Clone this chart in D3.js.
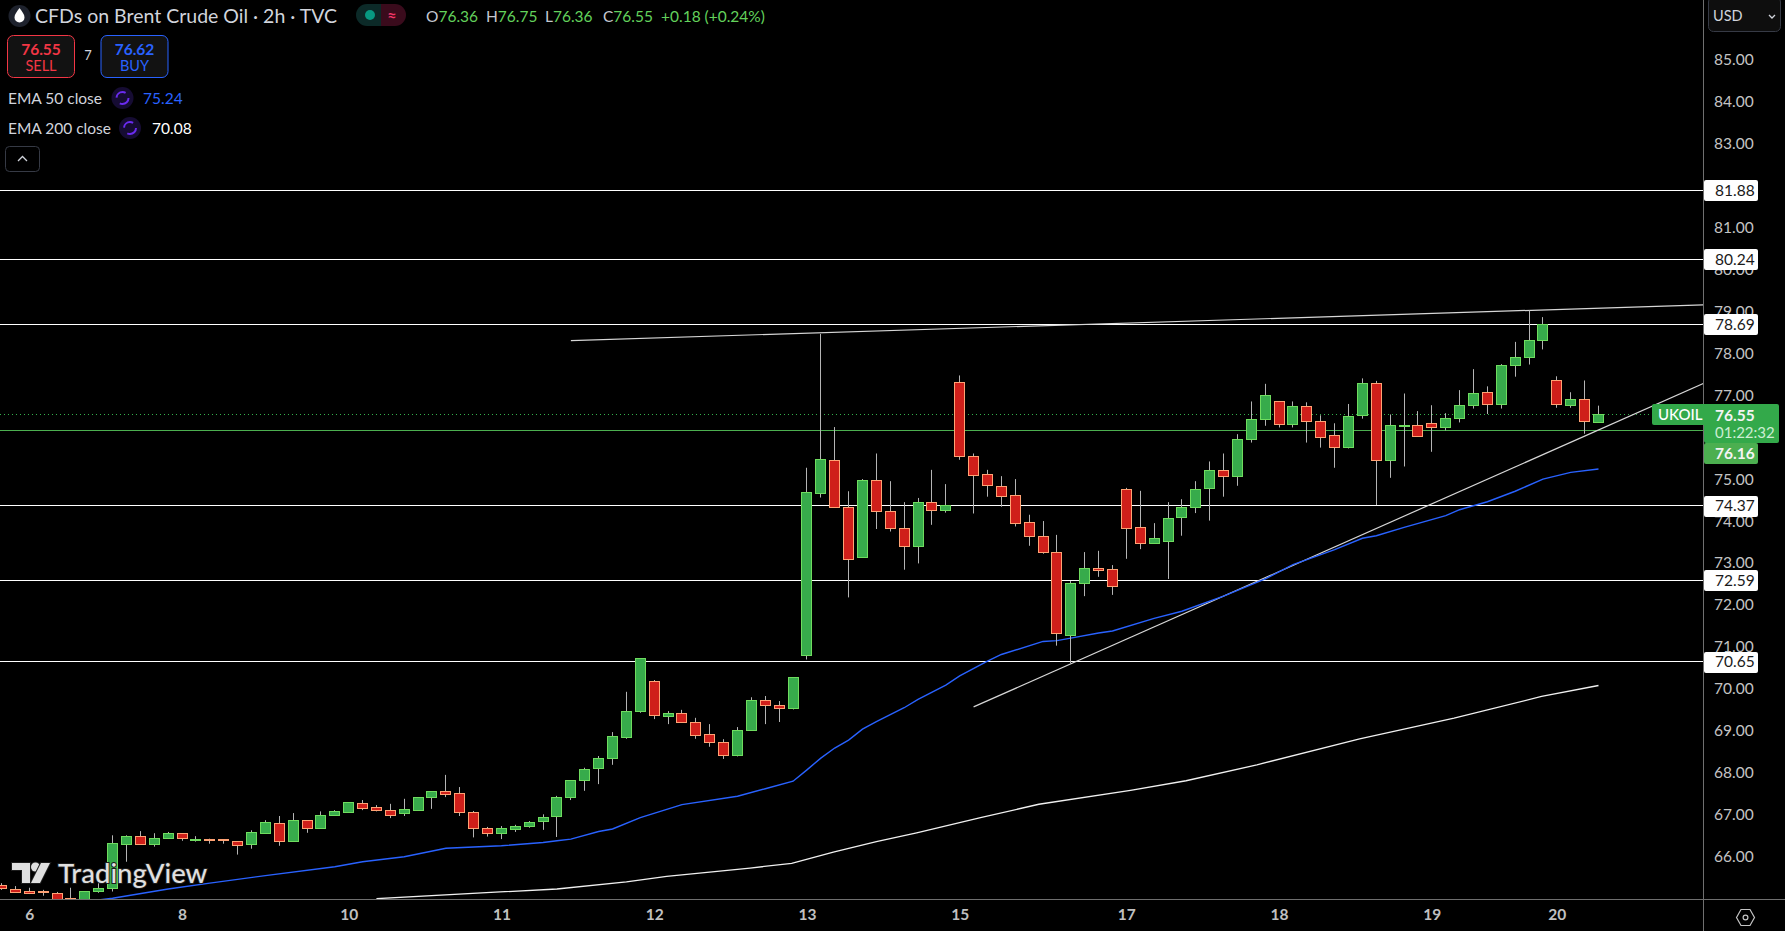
<!DOCTYPE html>
<html>
<head>
<meta charset="utf-8">
<title>CFDs on Brent Crude Oil</title>
<script src="https://cdn.jsdelivr.net/npm/d3@7"></script>
<style>
html, body { margin: 0; padding: 0; background: #000; overflow: hidden; }
svg { display: block; }
text { font-family: Lato, sans-serif; }
</style>
</head>
<body>
<script>
// candles, one entry per 2h bar
var opens = [65.32,65.23,65.18,65.16,65.13,65.01,64.85,65.17,65.24,66.31,66.49,66.29,66.44,66.56,66.41,66.42,66.40,66.36,66.29,66.55,
  66.80,66.38,66.87,66.69,66.98,67.05,67.27,67.18,67.11,67.03,67.12,67.41,67.56,67.51,67.06,66.68,66.57,66.67,66.72,66.84,
  66.96,67.41,67.81,68.10,68.34,68.84,69.46,70.18,69.36,69.42,69.20,68.92,68.73,68.41,69.01,69.73,69.61,69.53,70.80,74.65,
  75.45,74.33,73.13,74.97,74.23,73.83,73.39,74.45,74.25,77.31,75.54,75.11,74.83,74.61,73.97,73.64,73.26,71.29,72.51,72.87,
  72.85,74.76,73.85,73.46,73.53,74.08,74.32,74.77,75.21,75.06,75.94,76.42,76.85,76.30,76.73,76.38,76.04,75.75,76.52,77.28,
  75.44,76.27,76.28,76.33,76.23,76.45,76.76,77.07,76.78,77.71,77.90,78.31,77.35,76.76,76.90,76.36];
var closes = [65.24,65.17,65.14,65.14,64.90,64.90,65.18,65.25,66.32,66.49,66.29,66.44,66.56,66.44,66.42,66.39,66.38,66.27,66.58,66.82,
  66.37,66.87,66.69,66.99,67.08,67.30,67.15,67.12,67.00,67.13,67.42,67.56,67.50,67.05,66.69,66.55,66.68,66.73,66.82,66.94,
  67.42,67.82,68.08,68.35,68.87,69.47,70.73,69.36,69.42,69.20,68.89,68.72,68.43,69.01,69.73,69.60,69.55,70.28,74.69,75.47,
  74.32,73.10,74.97,74.22,73.82,73.39,74.45,74.25,74.38,75.54,75.08,74.84,74.58,73.94,73.63,73.25,71.32,72.52,72.87,72.82,
  72.44,73.84,73.46,73.59,74.07,74.33,74.76,75.21,75.06,75.95,76.42,77.00,76.30,76.73,76.37,76.01,75.75,76.50,77.28,75.44,
  76.28,76.28,76.01,76.23,76.45,76.76,77.04,76.78,77.71,77.90,78.31,78.69,76.78,76.90,76.38,76.55];
var highs = [65.37,65.30,65.26,65.21,65.16,65.26,65.18,65.37,66.51,66.51,66.61,66.56,66.59,66.56,66.49,66.43,66.42,66.36,66.63,66.87,
  66.97,67.04,66.87,67.08,67.11,67.30,67.35,67.23,67.26,67.38,67.42,67.56,67.95,67.66,67.09,66.71,66.73,66.76,66.85,67.01,
  67.45,67.82,68.12,68.40,68.97,69.93,70.73,70.21,69.47,69.50,69.31,69.16,68.80,69.09,69.80,69.83,69.71,70.28,75.27,78.46,
  76.24,74.71,75.00,75.61,74.95,74.45,74.55,75.22,74.88,77.47,75.61,75.22,75.07,75.00,74.15,74.00,73.67,72.57,73.26,73.29,
  72.95,74.79,74.72,73.95,74.45,74.52,74.95,75.42,75.61,76.07,76.85,77.27,76.85,76.85,76.83,76.52,76.33,76.79,77.40,77.34,
  76.54,77.04,76.62,76.76,76.57,77.12,77.62,77.21,77.74,78.27,79.02,78.86,77.45,77.07,77.35,76.75];
var lows = [65.21,65.14,65.11,65.07,64.85,64.85,64.80,65.14,65.17,65.88,66.29,66.24,66.44,66.38,66.36,66.31,66.31,66.05,66.19,66.55,
  66.26,66.36,66.57,66.69,66.98,67.05,67.11,67.08,66.92,66.97,67.12,67.14,67.42,66.97,66.46,66.48,66.42,66.59,66.69,66.64,
  66.47,67.35,67.57,67.73,68.19,68.81,69.43,69.28,69.16,69.20,68.81,68.62,68.33,68.39,69.01,69.16,69.21,69.51,70.70,74.56,
  74.32,72.18,73.13,73.81,73.75,72.84,72.99,73.91,74.20,75.46,74.18,74.58,74.34,73.87,73.41,73.22,71.03,70.61,72.21,72.67,
  72.24,73.10,73.33,73.46,72.62,73.65,74.19,74.01,74.58,74.84,75.87,76.27,76.23,76.23,75.87,75.75,75.27,75.73,76.44,74.38,
  75.03,75.30,76.01,75.65,76.16,76.35,76.68,76.55,76.68,77.44,77.73,78.09,76.70,76.70,76.08,76.36];

// EMA readings at the bars where they could be read
var ema50Bars = [7,8,12,15,19,24,26,29,32,36,39,40,41,43,44,46,49,53,55,57,58,59,60,61,62,63,65,66,68,69,71,72,75,76,77,79,80,83,85,88,91,93,95,96,98,99,101,104,105,107,109,111,113,115];
var ema50Values = [64.97,65.01,65.23,65.37,65.55,65.76,65.88,66.00,66.20,66.26,66.34,66.38,66.42,66.60,66.66,66.93,67.24,67.44,67.62,67.80,68.07,68.35,68.59,68.78,69.04,69.22,69.55,69.75,70.09,70.31,70.66,70.82,71.13,71.15,71.21,71.33,71.38,71.68,71.85,72.21,72.62,72.96,73.20,73.32,73.59,73.65,73.85,74.13,74.27,74.46,74.71,75.00,75.16,75.24];
var ema200Bars = [27,35.9,40,45,47.9,53.9,56.9,59.9,63,65.9,70.5,74.7,81.3,85.3,90.4,97.8,104.6,110.9,115];
var ema200Values = [65.00,65.16,65.23,65.40,65.53,65.73,65.84,66.11,66.36,66.57,66.93,67.25,67.58,67.81,68.19,68.81,69.30,69.82,70.08];

// drawn levels and the two trend lines
var levels = [81.88,80.24,78.69,74.37,72.59,70.65];
var upperTrendBars = [41,130];
var upperTrendValues = [78.30,79.23];
var lowerTrendBars = [70,130];
var lowerTrendValues = [69.57,78.37];

var lastPrice = 76.55;
var prevClose = 76.16;

var priceTicks = [85,84,83,82,81,80,79,78,77,76,75,74,73,72,71,70,69,68,67,66];
var dayBars = [2,13,25,36,47,58,69,81,92,103,112];
var dayLabels = ["6","8","10","11","12","13","15","17","18","19","20"];

var w = 1785, h = 931;
var plotW = 1703, plotH = 899;

var x = d3.scaleLinear().domain([0,115]).range([1.5,1598.5]);
var y = d3.scaleLinear().domain([85,66]).range([59.5,856.7]);

var svg = d3.select("body").append("svg").attr("width",w).attr("height",h);
svg.append("rect").attr("width",w).attr("height",h).attr("fill","#000");

svg.append("defs").append("clipPath").attr("id","plot")
  .append("rect").attr("width",plotW).attr("height",plotH);

var plot = svg.append("g").attr("clip-path","url(#plot)");

function snap(v) { return Math.floor(v) + 0.5; }

// levels
plot.selectAll(".level").data(levels).enter().append("line")
  .attr("x1",0).attr("x2",plotW)
  .attr("y1",function(d){return snap(y(d));})
  .attr("y2",function(d){return snap(y(d));})
  .attr("stroke","#fff").attr("stroke-width",1);

plot.append("line").attr("x1",0).attr("x2",plotW)
  .attr("y1",snap(y(prevClose))).attr("y2",snap(y(prevClose)))
  .attr("stroke","#4caf50").attr("stroke-width",1);

plot.append("line").attr("x1",0).attr("x2",1652)
  .attr("y1",snap(y(lastPrice))).attr("y2",snap(y(lastPrice)))
  .attr("stroke","#34b04c").attr("stroke-width",1).attr("stroke-dasharray","1 3");

// trend lines
var lineGen = d3.line().x(function(d){return x(d[0]);}).y(function(d){return y(d[1]);});

plot.append("path").attr("d",lineGen(d3.zip(upperTrendBars,upperTrendValues)))
  .attr("fill","none").attr("stroke","#d6d6d6").attr("stroke-width",1.2);
plot.append("path").attr("d",lineGen(d3.zip(lowerTrendBars,lowerTrendValues)))
  .attr("fill","none").attr("stroke","#d6d6d6").attr("stroke-width",1.2);

// moving averages
plot.append("path").attr("d",lineGen(d3.zip(ema200Bars,ema200Values)))
  .attr("fill","none").attr("stroke","#f0f0f0").attr("stroke-width",1.3);
plot.append("path").attr("d",lineGen(d3.zip(ema50Bars,ema50Values)))
  .attr("fill","none").attr("stroke","#2962ff").attr("stroke-width",1.4);

// candles
var bars = d3.range(opens.length);

plot.selectAll(".wick").data(bars).enter().append("line")
  .attr("x1",function(i){return snap(x(i));})
  .attr("x2",function(i){return snap(x(i));})
  .attr("y1",function(i){return y(highs[i]);})
  .attr("y2",function(i){return y(lows[i]);})
  .attr("stroke","#b4b4b4").attr("stroke-width",1);

plot.selectAll(".body").data(bars).enter().append("rect")
  .attr("x",function(i){return snap(x(i)) - 5;})
  .attr("width",10)
  .attr("y",function(i){return snap(y(Math.max(opens[i],closes[i])));})
  .attr("height",function(i){return Math.max(1,Math.round(Math.abs(y(opens[i]) - y(closes[i]))));})
  .attr("fill",function(i){return closes[i] >= opens[i] ? "#37ab4b" : "#cf1f1a";})
  .attr("stroke",function(i){return closes[i] >= opens[i] ? "#6fdc5f" : "#ffa274";})
  .attr("stroke-width",1);

// axes
var axisY = svg.append("g").attr("transform","translate(1703,0)")
  .call(d3.axisRight(y).tickValues(priceTicks).tickSize(0).tickPadding(11)
    .tickFormat(function(d){return d3.format(".2f")(d);}));
axisY.select(".domain").remove();
axisY.selectAll("text").attr("fill","#c4c4c4")
  .style("font-size","15.5px").style("font-family","Lato, sans-serif");

var axisX = svg.append("g").attr("transform","translate(0,899)")
  .call(d3.axisBottom(x).tickValues(dayBars).tickSize(0).tickPadding(10)
    .tickFormat(function(d){return dayLabels[dayBars.indexOf(d)];}));
axisX.select(".domain").remove();
axisX.selectAll("text").attr("fill","#c0c0c0")
  .style("font-size","15.5px").style("font-weight","700").style("font-family","Lato, sans-serif");

svg.append("line").attr("x1",1703.5).attr("x2",1703.5).attr("y1",0).attr("y2",h).attr("stroke","#6f6f6f");
svg.append("line").attr("x1",0).attr("x2",w).attr("y1",899.5).attr("y2",899.5).attr("stroke","#6f6f6f");

// price tags
levels.forEach(function(v){
  var cy = y(v);
  svg.append("rect").attr("x",1704).attr("y",Math.round(cy)-10).attr("width",54).attr("height",21).attr("rx",2).attr("fill","#fff");
  svg.append("text").attr("x",1715).attr("y",cy).attr("dy","0.36em").attr("font-size",15.5).attr("fill","#1a1a1a").text(v.toFixed(2));
});

svg.append("rect").attr("x",1652).attr("y",404).attr("width",60).attr("height",21).attr("rx",2).attr("fill","#33a94a");
svg.append("rect").attr("x",1704).attr("y",404).attr("width",75).attr("height",39).attr("rx",2).attr("fill","#33a94a");
svg.append("rect").attr("x",1704).attr("y",443).attr("width",54).attr("height",21).attr("rx",2).attr("fill","#4caf50");
svg.append("text").attr("x",1658).attr("y",415).attr("dy","0.36em").attr("font-size",15).attr("font-weight",500).attr("fill","#fff").text("UKOIL");
svg.append("text").attr("x",1715).attr("y",415).attr("dy","0.36em").attr("font-size",15.5).attr("font-weight",700).attr("fill","#f4f4f4").text(lastPrice.toFixed(2));
svg.append("text").attr("x",1715).attr("y",433).attr("dy","0.36em").attr("font-size",15).attr("fill","#cdeed3").text("01:22:32");
svg.append("text").attr("x",1715).attr("y",453.5).attr("dy","0.36em").attr("font-size",15.5).attr("font-weight",700).attr("fill","#f4f4f4").text(prevClose.toFixed(2));

// currency button
svg.append("rect").attr("x",1708.5).attr("y",-3).attr("width",72).attr("height",34.5).attr("rx",5).attr("fill","#0e0e0e").attr("stroke","#363a45");
svg.append("text").attr("x",1713).attr("y",16).attr("dy","0.36em").attr("font-size",14.5).attr("fill","#d1d4dc").text("USD");
svg.append("path").attr("d","M1769 15l3 3l3-3").attr("fill","none").attr("stroke","#d1d4dc").attr("stroke-width",1.3);

// settings icon
svg.append("path").attr("d","M1736.5 917.5l4.5-8h9l4.5 8l-4.5 8h-9z").attr("fill","none").attr("stroke","#c4c4c4").attr("stroke-width",1.2);
svg.append("circle").attr("cx",1745.5).attr("cy",917.5).attr("r",2.4).attr("fill","none").attr("stroke","#c4c4c4").attr("stroke-width",1.2);

// watermark
var logo = svg.append("g").attr("fill","#e0e0e0").attr("stroke","#1c1c1c").attr("stroke-width",2).attr("paint-order","stroke");
logo.append("path").attr("d","M12 863h18v20h-8v-13h-10z");
logo.append("circle").attr("cx",35.5).attr("cy",867).attr("r",4.5);
logo.append("path").attr("d","M41 863h9l-10 20h-9z");
logo.append("text").attr("x",58).attr("y",873).attr("dy","0.36em").attr("font-size",27.5).attr("font-family","Inter, sans-serif").attr("font-weight",500).text("TradingView");

// header
svg.append("circle").attr("cx",19.5).attr("cy",16).attr("r",11).attr("fill","#1e222d");
svg.append("path").attr("d","M19.5 8c3 4 5 6.500 5 9.500a5 5 0 0 1-10 0c0-3 2-5.500 5-9.500z").attr("fill","#fff");
svg.append("text").attr("x",35).attr("y",16).attr("dy","0.36em").attr("font-size",19.5).attr("fill","#d1d4dc").text("CFDs on Brent Crude Oil · 2h · TVC");

svg.append("path").attr("d","M381 4h-14a11 11 0 0 0 0 22h14z").attr("fill","#0c2a28");
svg.append("path").attr("d","M381 4h14a11 11 0 0 1 0 22h-14z").attr("fill","#3a0b1c");
svg.append("circle").attr("cx",370).attr("cy",15).attr("r",5).attr("fill","#089981");
svg.append("text").attr("x",392).attr("y",15).attr("dy","0.36em").attr("text-anchor","middle").attr("font-size",16).attr("font-weight",700).attr("fill","#f23668").text("≈");

var ohlc = [["O",426,"76.36"],["H",486,"76.75"],["L",545,"76.36"],["C",603,"76.55"]];
ohlc.forEach(function(d){
  var t = svg.append("text").attr("x",d[1]).attr("y",16).attr("dy","0.36em").attr("font-size",15.5);
  t.append("tspan").attr("fill","#c4c8d0").text(d[0]);
  t.append("tspan").attr("fill","#63d25c").text(d[2]);
});
svg.append("text").attr("x",661).attr("y",16).attr("dy","0.36em").attr("font-size",15.5).attr("fill","#63d25c").text("+0.18 (+0.24%)");

// sell and buy
function tradeBox(bx,val,label,col){
  svg.append("rect").attr("x",bx).attr("y",35.5).attr("width",67).attr("height",42).attr("rx",6).attr("fill","#121212").attr("stroke",col);
  svg.append("text").attr("x",bx+33.5).attr("y",49.5).attr("dy","0.36em").attr("text-anchor","middle").attr("font-size",15.5).attr("font-weight",700).attr("fill",col).text(val);
  svg.append("text").attr("x",bx+33.5).attr("y",66).attr("dy","0.36em").attr("text-anchor","middle").attr("font-size",14.5).attr("fill",col).text(label);
}
tradeBox(7.5,"76.55","SELL","#f23645");
tradeBox(101,"76.62","BUY","#2962ff");
svg.append("text").attr("x",88).attr("y",55).attr("dy","0.36em").attr("text-anchor","middle").attr("font-size",13).attr("fill","#d1d4dc").text("7");

// indicator rows
function emaRow(cy,name,iconX,valX,val,col){
  svg.append("text").attr("x",8).attr("y",cy).attr("dy","0.36em").attr("font-size",15.5).attr("fill","#d1d4dc").text(name);
  svg.append("circle").attr("cx",iconX).attr("cy",cy).attr("r",11).attr("fill","#160c33");
  svg.append("circle").attr("cx",iconX).attr("cy",cy).attr("r",6).attr("fill","none").attr("stroke","#6a2bf0").attr("stroke-width",2).attr("stroke-dasharray","12 6.800");
  svg.append("text").attr("x",valX).attr("y",cy).attr("dy","0.36em").attr("font-size",15.5).attr("fill",col).text(val);
}
emaRow(98,"EMA 50 close",122.5,143,"75.24","#2962ff");
emaRow(128,"EMA 200 close",130,152,"70.08","#fff");

svg.append("rect").attr("x",5.5).attr("y",146.5).attr("width",34).attr("height",25).attr("rx",4).attr("fill","#000").attr("stroke","#363a45");
svg.append("path").attr("d","M18 161l4.500-4.500l4.500 4.500").attr("fill","none").attr("stroke","#d1d4dc").attr("stroke-width",1.3);
</script>
</body>
</html>
